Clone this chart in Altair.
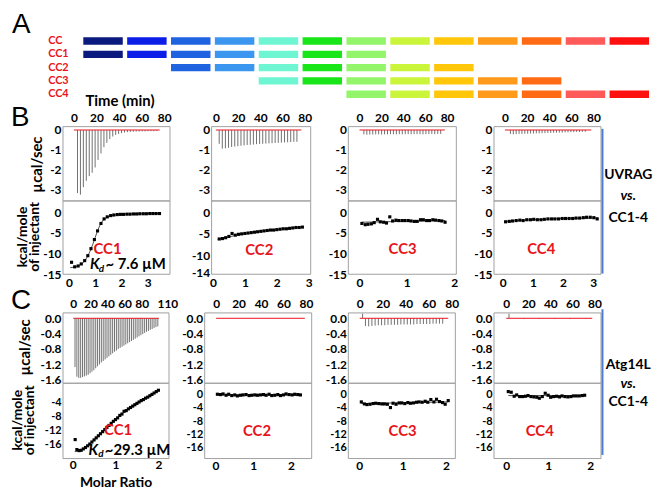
import altair as alt
import pandas as pd

FONT = "Lato"
RED = "#e8141c"
FRAME = "#a0a0a0"
SPIKE = "#707070"
BLUE = "#4a7bd5"
WT, HT = 652, 482
SQ = 480 / 493
MINUS = "replace(datum.label, '\u2212', '-')"


def PX(x):
    return x - 8


def PY(y):
    return (y - 10) * SQ


def S(v):
    return round(v) + 0.5


# ---------------- Panel A: construct map ----------------
a_rows = ["CC", "CC1", "CC2", "CC3", "CC4"]
a_first = [1, 1, 3, 5, 7]
a_last = [13, 7, 9, 11, 13]
a_segments = [1, 2, 3, 4, 5, 6, 7, 8, 9, 10, 11, 12, 13]
a_colors = ["#0b1a7e", "#0b1ee8", "#1f63e0", "#3b96ef", "#6ef5d2", "#19e619",
            "#93f56a", "#cbf53a", "#ffc60a", "#ff9a1a", "#ff6b15", "#ff5a5a", "#ff1010"]

# ---------------- B row (UVRAG vs CC1-4) ----------------
b1_spike_t = [3.2, 5.8, 8.4, 11.0, 13.6, 16.2, 18.8, 21.4, 24.0, 26.6, 29.2, 31.8, 34.4, 37.0,
              39.6, 42.2, 44.8, 47.4, 50.0, 52.6, 55.2, 57.8, 60.4, 63.0, 65.6, 68.2, 70.8, 73.4]
b1_spike_p = [-3.20, -3.28, -2.90, -2.58, -2.34, -2.17, -1.90, -1.52, -1.19, -0.87, -0.65, -0.46,
              -0.33, -0.25, -0.20, -0.16, -0.13, -0.11, -0.10, -0.09, -0.08, -0.08, -0.07, -0.07,
              -0.06, -0.06, -0.06, -0.05]
b1_base_t = [0, 76]
b1_pts_m = [0.10, 0.22, 0.35, 0.47, 0.60, 0.72, 0.84, 0.97, 1.09, 1.22, 1.34, 1.46, 1.59, 1.71,
            1.84, 1.96, 2.08, 2.21, 2.33, 2.46, 2.58, 2.70, 2.83, 2.95, 3.08, 3.20, 3.32, 3.45]
b1_pts_k = [-12.1, -13.2, -13.0, -12.5, -11.7, -10.5, -8.8, -6.6, -4.5, -2.7, -1.6, -1.1, -0.8,
            -0.65, -0.55, -0.5, -0.5, -0.45, -0.45, -0.4, -0.4, -0.35, -0.35, -0.35, -0.3, -0.3,
            -0.3, -0.3]
b1_fit_m = [0.05, 0.2, 0.35, 0.5, 0.6, 0.7, 0.8, 0.9, 1.0, 1.1, 1.2, 1.3, 1.4, 1.55, 1.75, 2.0,
            2.5, 3.0, 3.45]
b1_fit_k = [-13.4, -13.3, -13.0, -12.4, -11.8, -10.8, -9.5, -7.9, -6.1, -4.3, -2.9, -1.9, -1.4,
            -0.95, -0.65, -0.5, -0.38, -0.32, -0.3]

b2_spike_t = [3.0, 5.8, 8.6, 11.4, 14.2, 17.0, 19.8, 22.6, 25.4, 28.2, 31.0, 33.8, 36.6, 39.4,
              42.2, 45.0, 47.8, 50.6, 53.4, 56.2, 59.0, 61.8, 64.6, 67.4, 70.2, 73.0]
b2_spike_p = [-0.70, -0.95, -0.93, -0.90, -0.86, -0.84, -0.82, -0.80, -0.78, -0.76, -0.75, -0.74,
              -0.72, -0.71, -0.70, -0.69, -0.68, -0.67, -0.66, -0.65, -0.64, -0.63, -0.62, -0.61,
              -0.60, -0.60]
b2_base_t = [0, 77]
b2_pts_m = [0.2, 0.3, 0.4, 0.5, 0.6, 0.7, 0.8, 0.9, 1.0, 1.1, 1.2, 1.3, 1.4, 1.5, 1.6, 1.7, 1.8,
            1.9, 2.0, 2.1, 2.2, 2.3, 2.4, 2.5, 2.6, 2.7, 2.8]
b2_pts_k = [-6.2, -6.1, -5.9, -5.6, -4.9, -5.3, -5.1, -5.0, -4.9, -4.8, -4.7, -4.6, -4.5, -4.4,
            -4.3, -4.2, -4.1, -4.1, -4.0, -3.9, -3.8, -3.8, -3.7, -3.6, -3.5, -3.5, -3.4]
b2_fit_m = [0.15, 0.5, 1.0, 1.5, 2.0, 2.5, 2.85]
b2_fit_k = [-6.3, -5.7, -4.9, -4.4, -4.0, -3.6, -3.4]

b3_spike_t = [4.0, 6.7, 9.4, 12.1, 14.8, 17.5, 20.2, 22.9, 25.6, 28.3, 31.0, 33.7, 36.4, 39.1,
              41.8, 44.5, 47.2, 49.9, 52.6, 55.3, 58.0, 60.7, 63.4, 66.1, 68.8, 71.5, 74.2]
b3_spike_p = [-0.22, -0.24, -0.23, -0.23, -0.22, -0.22, -0.23, -0.22, -0.22, -0.21, -0.22, -0.22,
              -0.21, -0.22, -0.21, -0.21, -0.22, -0.21, -0.21, -0.21, -0.22, -0.21, -0.21, -0.20,
              -0.21, -0.20, -0.20]
b3_base_t = [0, 78]
b3_pts_m = [0.05, 0.12, 0.18, 0.25, 0.31, 0.38, 0.44, 0.51, 0.57, 0.64, 0.70, 0.77, 0.83, 0.90,
            0.96, 1.03, 1.09, 1.16, 1.22, 1.29, 1.35, 1.42, 1.48, 1.55, 1.61, 1.68, 1.74, 1.81]
b3_pts_k = [-2.7, -3.0, -2.9, -2.8, -2.5, -1.7, -2.3, -2.4, -2.6, -1.1, -2.1, -1.9, -2.0, -2.0,
            -2.0, -2.0, -2.1, -2.2, -2.2, -1.8, -1.8, -2.0, -2.0, -1.8, -1.9, -2.0, -2.1, -2.4]
b3_fit_m = [0.05, 1.81]
b3_fit_k = [-2.4, -2.0]

b4_spike_t = [5.0, 7.6, 10.2, 12.8, 15.4, 18.0, 20.6, 23.2, 25.8, 28.4, 31.0, 33.6, 36.2, 38.8,
              41.4, 44.0, 46.6, 49.2, 51.8, 54.4, 57.0, 59.6, 62.2, 64.8, 67.4, 70.0, 72.6]
b4_spike_p = [-0.20, -0.22, -0.21, -0.20, -0.20, -0.19, -0.19, -0.18, -0.18, -0.17, -0.17, -0.16,
              -0.16, -0.15, -0.15, -0.14, -0.14, -0.13, -0.13, -0.12, -0.12, -0.11, -0.11, -0.10,
              -0.10, -0.09, -0.09]
b4_base_t = [0, 78]
b4_pts_m = [0.10, 0.22, 0.33, 0.45, 0.57, 0.68, 0.80, 0.92, 1.03, 1.15, 1.27, 1.38, 1.50, 1.62,
            1.73, 1.85, 1.97, 2.08, 2.20, 2.32, 2.43, 2.55, 2.67, 2.78, 2.90, 3.02, 3.13]
b4_pts_k = [-2.3, -2.2, -2.1, -2.0, -1.9, -2.0, -1.8, -1.8, -1.7, -1.8, -1.8, -1.7, -1.6, -1.6,
            -1.6, -1.6, -1.5, -1.5, -1.5, -1.5, -1.4, -1.4, -1.3, -1.2, -1.2, -1.3, -1.6]
b4_fit_m = [0.05, 1.0, 2.0, 3.15]
b4_fit_k = [-2.2, -1.8, -1.5, -1.35]

# ---------------- C row (Atg14L vs CC1-4) ----------------
c1_spike_t = [2.0, 4.2, 6.4, 8.6, 10.8, 13.0, 15.2, 17.4, 19.6, 21.8, 24.0, 26.2, 28.4, 30.6,
              32.8, 35.0, 37.2, 39.4, 41.6, 43.8, 46.0, 48.2, 50.4, 52.6, 54.8, 57.0, 59.2, 61.4,
              63.6, 65.8, 68.0, 70.2, 72.4, 74.6, 76.8, 79.0, 81.2, 83.4, 85.6, 87.8, 90.0, 92.2,
              94.4, 96.6, 98.8]
c1_spike_p = [-1.27, -1.52, -1.55, -1.55, -1.53, -1.51, -1.49, -1.47, -1.43, -1.39, -1.35, -1.30,
              -1.25, -1.20, -1.15, -1.11, -1.07, -1.03, -0.99, -0.95, -0.91, -0.87, -0.84, -0.80,
              -0.77, -0.74, -0.71, -0.68, -0.65, -0.62, -0.59, -0.56, -0.53, -0.50, -0.47, -0.44,
              -0.41, -0.38, -0.35, -0.33, -0.30, -0.28, -0.25, -0.23, -0.21]
c1_base_t = [0, 100]
c1_pts_m = [0.06, 0.10, 0.15, 0.20, 0.25, 0.30, 0.35, 0.40, 0.45, 0.50, 0.55, 0.60, 0.65, 0.70,
            0.75, 0.80, 0.85, 0.90, 0.95, 1.00, 1.05, 1.10, 1.15, 1.20, 1.25, 1.30, 1.35, 1.40,
            1.45, 1.50, 1.55, 1.60, 1.65, 1.70, 1.75, 1.80, 1.85, 1.90, 1.95, 2.00]
c1_pts_k = [-14.7, -17.6, -17.9, -17.8, -17.4, -17.0, -16.5, -16.0, -15.4, -14.8, -14.2, -13.6,
            -13.0, -12.4, -11.8, -11.2, -10.6, -10.0, -9.4, -8.9, -8.4, -7.7, -7.3, -6.5, -6.3,
            -5.8, -5.4, -5.0, -4.6, -4.2, -3.8, -3.4, -3.1, -2.7, -2.4, -2.0, -1.6, -1.2, -0.8,
            -0.4]
c1_fit_m = [0.05, 0.2, 0.4, 0.6, 0.8, 1.0, 1.2, 1.4, 1.6, 1.8, 2.0]
c1_fit_k = [-18.2, -17.9, -16.0, -13.6, -11.2, -8.9, -6.8, -5.0, -3.4, -2.0, -0.5]

c2_spike_t = []
c2_spike_p = []
c2_base_t = [0, 79]
c2_pts_m = [0.05, 0.13, 0.20, 0.28, 0.35, 0.43, 0.51, 0.58, 0.66, 0.73, 0.81, 0.89, 0.96, 1.04,
            1.11, 1.19, 1.27, 1.34, 1.42, 1.49, 1.57, 1.65, 1.72, 1.80, 1.87, 1.95, 2.03, 2.10,
            2.18, 2.25]
c2_pts_k = [0.1, 0.0, 0.2, -0.2, 0.1, -0.3, -0.1, -0.4, -0.2, -0.1, 0.0, -0.3, -0.2, -0.1, -0.2,
            -0.1, 0.0, -0.2, 0.1, -0.3, -0.2, 0.0, -0.3, -0.1, 0.2, 0.0, -0.1, 0.1, 0.0, -0.1]
c2_fit_m = [0.05, 2.25]
c2_fit_k = [-0.1, -0.1]

c3_spike_t = [2.5, 5.0, 7.8, 10.6, 13.4, 16.2, 19.0, 21.8, 24.6, 27.4, 30.2, 33.0, 35.8, 38.6,
              41.4, 44.2, 47.0, 49.8, 52.6, 55.4, 58.2, 61.0, 63.8, 66.6, 69.4, 72.2]
c3_spike_p = [0.12, -0.20, -0.21, -0.20, -0.19, -0.18, -0.18, -0.18, -0.17, -0.17, -0.17, -0.17,
              -0.16, -0.16, -0.16, -0.16, -0.16, -0.15, -0.15, -0.15, -0.15, -0.15, -0.14, -0.14,
              -0.14, -0.14]
c3_base_t = [0, 77]
c3_pts_m = [0.05, 0.12, 0.18, 0.25, 0.32, 0.38, 0.45, 0.52, 0.58, 0.65, 0.72, 0.78, 0.85, 0.92,
            0.98, 1.05, 1.12, 1.18, 1.25, 1.32, 1.38, 1.45, 1.52, 1.58, 1.65, 1.72, 1.78, 1.85,
            1.92, 1.98, 2.05]
c3_pts_k = [-2.2, -2.8, -3.0, -2.9, -2.7, -2.6, -2.7, -2.8, -2.8, -2.9, -3.9, -2.6, -2.9, -2.5,
            -2.5, -2.7, -2.4, -2.6, -2.5, -2.3, -2.2, -2.3, -2.0, -2.3, -1.5, -2.2, -1.4, -2.1,
            -2.4, -2.9, -1.8]
c3_fit_m = [0.05, 2.05]
c3_fit_k = [-2.7, -2.2]

c4_spike_t = [2.5, 16.0, 30.0, 44.0, 58.0, 72.0]
c4_spike_p = [0.12, -0.02, -0.02, -0.02, -0.02, -0.02]
c4_base_t = [0, 78]
c4_pts_m = [0.05, 0.12, 0.19, 0.25, 0.32, 0.39, 0.46, 0.52, 0.59, 0.66, 0.73, 0.79, 0.86, 0.93,
            1.00, 1.06, 1.13, 1.20, 1.27, 1.33, 1.40, 1.47, 1.54, 1.60, 1.67, 1.74, 1.81, 1.87]
c4_pts_k = [0.9, 0.7, -0.5, -0.1, -0.6, -0.6, -0.5, -0.3, -0.6, -0.7, -0.8, -1.1, -0.6, 0.4,
            -0.2, -0.8, -0.6, -0.5, -0.7, -0.4, -0.6, -0.7, -0.6, -0.4, -0.4, -0.4, -0.3, -0.2]
c4_fit_m = [0.05, 1.87]
c4_fit_k = [-0.3, -0.3]

one = pd.DataFrame({"v": [0]})


def txt(text, x, y, size, color="black", weight="bold", style="normal", align="left",
        baseline="middle", font=FONT, angle=0):
    return alt.Chart(one).mark_text(
        text=text, font=font, fontSize=size, fontWeight=weight, fontStyle=style,
        color=color, align=align, baseline=baseline, angle=angle
    ).encode(x=alt.value(PX(x)), y=alt.value(PY(y)))


def note(m, k, s, size, color="black", style="normal", align="left"):
    return dict(m=m, k=k, s=s, size=size, color=color, style=style, align=align)


def panel(L, R, T, D, Bt, tdom, tvals, pdom, pvals, pfmt, mdom, mvals, kdom, kvals,
          spk_t, spk_p, base_t, pts_m, pts_k, fit_m, fit_k, notes, lpad=3, kfont=12):
    l, r, t, d, b = S(PX(L)), S(PX(R)), S(PY(T)), S(PY(D)), S(PY(Bt))
    Xt = alt.X("t:Q", scale=alt.Scale(domain=tdom, range=[l, r], nice=False, zero=False),
               axis=alt.Axis(orient="top", offset=-t, values=tvals, format="d",
                             labelExpr=MINUS), title=None)
    Yt = alt.Y("p:Q", scale=alt.Scale(domain=pdom, range=[d, t], nice=False, zero=False),
               axis=alt.Axis(orient="left", offset=-l, values=pvals, format=pfmt,
                             labelExpr=MINUS), title=None)
    frame_t = alt.Chart(pd.DataFrame({"t": [tdom[0]], "t2": [tdom[1]], "p": [pdom[0]],
                                      "p2": [pdom[1]]})).mark_rect(
        fillOpacity=0, stroke=FRAME, strokeWidth=1).encode(
        x=Xt, x2=alt.X2("t2"), y=Yt, y2=alt.Y2("p2"))
    base = alt.Chart(pd.DataFrame({"t": base_t, "p": [0, 0]})).mark_line(
        color=RED, strokeWidth=1).encode(x=Xt, y=Yt)
    tops = [frame_t]
    if spk_t:
        tops.append(alt.Chart(pd.DataFrame({"t": spk_t, "p": spk_p, "z": [0] * len(spk_t)}))
                    .mark_rule(color=SPIKE, strokeWidth=1)
                    .encode(x=Xt, y=Yt, y2=alt.Y2("z")))
    tops.append(base)
    top = alt.layer(*tops)

    Xb = alt.X("m:Q", scale=alt.Scale(domain=mdom, range=[l, r], nice=False, zero=False),
               axis=alt.Axis(orient="bottom", offset=b - HT, values=mvals, format="d",
                             labelPadding=lpad), title=None)
    Yb = alt.Y("k:Q", scale=alt.Scale(domain=kdom, range=[b, d], nice=False, zero=False),
               axis=alt.Axis(orient="left", offset=-l, values=kvals, format="d",
                             labelExpr=MINUS, labelFontSize=kfont), title=None)
    frame_b = alt.Chart(pd.DataFrame({"m": [mdom[0]], "m2": [mdom[1]], "k": [kdom[0]],
                                      "k2": [kdom[1]]})).mark_rect(
        fillOpacity=0, stroke=FRAME, strokeWidth=1).encode(
        x=Xb, x2=alt.X2("m2"), y=Yb, y2=alt.Y2("k2"))
    fit = alt.Chart(pd.DataFrame({"m": fit_m, "k": fit_k})).mark_line(
        color="#505050", strokeWidth=1).encode(x=Xb, y=Yb)
    pts = alt.Chart(pd.DataFrame({"m": pts_m, "k": pts_k})).mark_square(
        size=10, color="black", opacity=1).encode(x=Xb, y=Yb)
    bots = [frame_b, fit, pts]
    for n in notes:
        bots.append(
            alt.Chart(pd.DataFrame({"m": [n["m"]], "k": [n["k"]], "s": [n["s"]]})).mark_text(
                font=FONT, fontSize=n["size"], fontWeight="bold", fontStyle=n["style"],
                color=n["color"], align=n["align"], baseline="middle"
            ).encode(x=Xb, y=Yb, text="s:N"))
    return [top, alt.layer(*bots)]


def side_labels(x, ys, words, y0, y1):
    out = [alt.Chart(one).mark_rule(color=BLUE, strokeWidth=2).encode(
        x=alt.value(PX(608)), y=alt.value(PY(y0)), y2=alt.value(PY(y1)))]
    for word, y in zip(words, ys):
        style = "italic" if word == "vs." else "normal"
        out.append(txt(word, x, y, 14, style=style, align="center"))
    return out


TV = [0, 20, 40, 60, 80]
BP = [-3.6, 0.17]
BPV = [0, -1, -2, -3]
CP = [-1.69, 0.14]
CPV = [0, -0.4, -0.8, -1.2, -1.6]
CK = [-19.2, 3.4]
CKV = [0, -4, -8, -12, -16]
BT, BD, BB = 130.5, 207.3, 283.3
CT, CD, CB = 323, 396, 474.5

layers = []

# ---- panel A ----
ra, sa = [], []
for r, f, l in zip(a_rows, a_first, a_last):
    for s in a_segments:
        if f <= s <= l:
            ra.append(r)
            sa.append(s)
dfA = pd.DataFrame({"row": ra, "seg": sa})
layers.append(alt.Chart(dfA).mark_rect().encode(
    x=alt.X("seg:O", scale=alt.Scale(domain=a_segments, range=[PX(84), PX(655)],
                                     paddingInner=0.1, paddingOuter=0), axis=None),
    y=alt.Y("row:O", scale=alt.Scale(domain=a_rows, range=[PY(35), PY(104)],
                                     paddingInner=0.45, paddingOuter=0.225),
            axis=alt.Axis(orient="left", offset=-PX(84), labelAlign="left", labelPadding=36,
                          labelColor=RED, labelFontSize=11, labelBaseline="middle"),
            title=None),
    color=alt.Color("seg:O", scale=alt.Scale(domain=a_segments, range=a_colors), legend=None),
))
layers.append(txt("A", 12, 34, 28, weight="normal", font="Liberation Sans",
                  baseline="alphabetic"))

# ---- row B ----
layers += panel(63, 171, BT, BD, BB, [-9.65, 85.1], TV, BP, BPV, "d", [-0.226, 3.85],
                [0, 1, 2, 3], [-15, 2.75], [0, -5, -10, -15],
                b1_spike_t, b1_spike_p, b1_base_t, b1_pts_m, b1_pts_k, b1_fit_m, b1_fit_k,
                [note(1.47, -9.0, "CC1", 15, RED, align="center"),
                 note(0.80, -12.6, "K", 15, style="italic"),
                 note(1.14, -13.7, "d", 10, style="italic"),
                 note(1.39, -12.6, "~ 7.6 \u00b5M", 15)])
layers += panel(213, 313, BT, BD, BB, [-3.84, 85.4], TV, BP, BPV, "d", [-0.04, 3.06],
                [0, 1, 2, 3], [-14.5, 2.75], [0, -5, -10, -14],
                b2_spike_t, b2_spike_p, b2_base_t, b2_pts_m, b2_pts_k, b2_fit_m, b2_fit_k,
                [note(1.45, -8.7, "CC2", 15, RED, align="center")])
layers += panel(351, 460, BT, BD, BB, [-10.2, 88.5], TV, BP, BPV, "d", [-0.237, 2.048],
                [0, 1, 2], [-15, 2.75], [0, -5, -10, -15],
                b3_spike_t, b3_spike_p, b3_base_t, b3_pts_m, b3_pts_k, b3_fit_m, b3_fit_k,
                [note(0.91, -9.0, "CC3", 15, RED, align="center")])
layers += panel(498, 606, BT, BD, BB, [-9.85, 86.8], TV, BP, BPV, "d", [-0.285, 3.256],
                [0, 1, 2, 3], [-15, 2.75], [0, -5, -10, -15],
                b4_spike_t, b4_spike_p, b4_base_t, b4_pts_m, b4_pts_k, b4_fit_m, b4_fit_k,
                [note(1.28, -9.0, "CC4", 15, RED, align="center")])
layers += [
    txt("B", 11, 130, 28, weight="normal", font="Liberation Sans", baseline="alphabetic"),
    txt("Time (min)", 121, 104, 15, align="center"),
    txt("\u00b5cal/sec", 37, 170, 15, align="center", angle=270),
    txt("kcal/mole", 23.5, 245, 14, align="center", angle=270),
    txt("of injectant", 35.5, 245, 14, align="center", angle=270),
]
layers += side_labels(634, [181, 203, 225], ["UVRAG", "vs.", "CC1-4"], 133, 283)

# ---- row C ----
layers += panel(63, 170, CT, CD, CB, [-12.05, 111.9], [0, 20, 40, 60, 80, 110], CP, CPV, ".1f",
                [-0.224, 2.247], [0, 1, 2], [-20.2, 1.63], [-4, -8, -12, -16],
                c1_spike_t, c1_spike_p, c1_base_t, c1_pts_m, c1_pts_k, c1_fit_m, c1_fit_k,
                [note(1.06, -12.0, "CC1", 15, RED, align="center"),
                 note(0.37, -17.8, "K", 15, style="italic"),
                 note(0.60, -18.9, "d", 10, style="italic"),
                 note(0.75, -17.8, "~29.3 \u00b5M", 15)], lpad=1, kfont=11)
layers += panel(205.7, 314.3, CT, CD, CB, [-10.2, 85.1], TV, CP, CPV, ".1f", [-0.287, 2.548],
                [0, 1, 2], CK, CKV,
                c2_spike_t, c2_spike_p, c2_base_t, c2_pts_m, c2_pts_k, c2_fit_m, c2_fit_k,
                [note(1.10, -10.8, "CC2", 15, RED, align="center")], lpad=2, kfont=11)
layers += panel(350.7, 459.3, CT, CD, CB, [-9.9, 83.2], TV, CP, CPV, ".1f", [-0.249, 2.214],
                [0, 1, 2], CK, CKV,
                c3_spike_t, c3_spike_p, c3_base_t, c3_pts_m, c3_pts_k, c3_fit_m, c3_fit_k,
                [note(1.0, -10.8, "CC3", 15, RED, align="center")], lpad=2, kfont=11)
layers += panel(497.7, 606, CT, CD, CB, [-11.1, 85.9], TV, CP, CPV, ".1f", [-0.291, 2.259],
                [0, 1, 2], CK, CKV,
                c4_spike_t, c4_spike_p, c4_base_t, c4_pts_m, c4_pts_k, c4_fit_m, c4_fit_k,
                [note(0.8, -10.8, "CC4", 15, RED, align="center")], lpad=2, kfont=11)
layers += [
    txt("C", 11, 320, 28, weight="normal", font="Liberation Sans", baseline="alphabetic"),
    txt("\u00b5cal/sec", 25, 359.5, 15, align="center", angle=270),
    txt("kcal/mole", 18, 435, 14, align="center", angle=270),
    txt("of injectant", 30, 435, 14, align="center", angle=270),
    txt("Molar Ratio", 117, 500, 14, align="center"),
]
layers += side_labels(634, [378, 397, 416], ["Atg14L", "vs.", "CC1-4"], 320, 471)

chart = alt.layer(*layers).resolve_scale(
    x="independent", y="independent"
).properties(
    width=WT, height=HT, autosize=alt.AutoSizeParams(type="none"), padding=0,
    background="white"
).configure_view(stroke="transparent").configure_axis(
    labelFont=FONT, labelFontWeight="bold", labelFontSize=12, labelColor="black",
    domain=False, ticks=False, grid=False, labelPadding=2, labelFlush=False,
    labelOverlap=False)

chart.save("out.html", embed_options={"renderer": "svg", "actions": False})
